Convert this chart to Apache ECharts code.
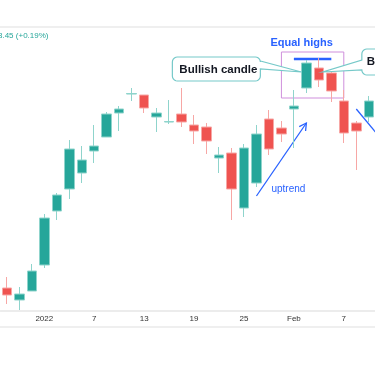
<!DOCTYPE html>
<html><head><meta charset="utf-8">
<script src="https://cdn.jsdelivr.net/npm/echarts@6/dist/echarts.min.js"></script>
<style>html,body{margin:0;padding:0;background:#fff;overflow:hidden}#c{width:375px;height:366px}</style>
</head><body><div id="c"></div>
<script>
// ---- data ----
const categories = ['2021-12-29','2021-12-30','2021-12-31','2022-01-03','2022-01-04','2022-01-05','2022-01-06','2022-01-07','2022-01-10','2022-01-11','2022-01-12','2022-01-13','2022-01-14','2022-01-17','2022-01-18','2022-01-19','2022-01-20','2022-01-21','2022-01-24','2022-01-25','2022-01-26','2022-01-27','2022-01-28','2022-01-31','2022-02-01','2022-02-02','2022-02-03','2022-02-04','2022-02-07','2022-02-08'];
const tickLabels = ['','','','2022','','','','7','','','','13','','','','19','','','','25','','','','Feb','','','','7','',''];
const opens  = [1712,1700,1709,1735,1789,1811,1827,1849,1863,1887,1906,1905,1883,1878,1886,1875,1873,1842,1847,1792,1817,1881,1872,1891,1912,1932,1927,1899,1877,1883];
const closes = [1705,1706,1729,1782,1805,1851,1840,1854,1886,1891,1906.4,1892,1887,1878.4,1878,1869,1859,1845,1811,1852,1866,1851,1866,1894,1937,1920,1909,1867,1869,1899];
const lows   = [1696,1690,1709,1732,1780,1801,1817,1837,1863,1869,1899,1887,1868,1876,1873,1856,1846,1827,1780,1783,1813,1845,1858,1852,1907,1913,1898,1857,1830,1878];
const highs  = [1723,1713,1736,1786,1807,1860,1854,1875,1888,1894,1912,1905,1892,1900,1912,1885,1877,1853,1852,1856,1875,1890,1879,1910,1940,1942,1930,1910,1879,1904];
const headerText = '3.45 (+0.19%)';
const equalHighsLabel = 'Equal highs';
const bullishLabel = 'Bullish candle';
const bearishLabel = 'Bearish candle';
const uptrendLabel = 'uptrend';

const chart = echarts.init(document.getElementById('c'), null, {renderer:'canvas'});
const candleData = opens.map((o,i)=>[o, closes[i], lows[i], highs[i]]);
chart.setOption({
  animation:false,
  grid:{left:0.64, right:-7.1, top:27, bottom:55},
  xAxis:{type:'category', data:categories, boundaryGap:true,
    axisLine:{show:true, lineStyle:{color:'#ececec', width:2}},
    axisTick:{show:false}, splitLine:{show:false},
    axisLabel:{interval:0, margin:4, fontSize:8, color:'#333333', fontFamily:'Liberation Sans',
      formatter:(v,i)=>tickLabels[i]}},
  yAxis:{type:'value', min:1689, max:1973, show:false},
  series:[{type:'candlestick', data:candleData, barWidth:10,
    itemStyle:{color:'#26a69a', color0:'#ef5350', borderColor:'#8fd4cc', borderColor0:'#f7a7a5', borderWidth:1}}]
});

const P = (i,v)=>chart.convertToPixel({gridIndex:0},[i,v]);
function arc(cx,cy,r,a0,a1){const pts=[];for(let k=0;k<=5;k++){const a=(a0+(a1-a0)*k/5)*Math.PI/180;pts.push([cx+r*Math.cos(a),cy+r*Math.sin(a)]);}return pts;}
function callout(l,t,w,h,r,side,ty1,ty2,tip){
  const R=l+w,B=t+h;let p=[];
  p=p.concat(arc(l+r,t+r,r,180,270));
  p=p.concat(arc(R-r,t+r,r,270,360));
  if(side==='right'){p.push([R,ty1],tip,[R,ty2]);}
  p=p.concat(arc(R-r,B-r,r,0,90));
  p=p.concat(arc(l+r,B-r,r,90,180));
  if(side==='left'){p.push([l,ty2],tip,[l,ty1]);}
  return p;
}
function arrowHead(a,b,len,ang){
  const dx=b[0]-a[0],dy=b[1]-a[1],L=Math.hypot(dx,dy),ux=-dx/L,uy=-dy/L;
  const rot=(x,y,t)=>[x*Math.cos(t)-y*Math.sin(t),x*Math.sin(t)+y*Math.cos(t)];
  const w1=rot(ux,uy,ang),w2=rot(ux,uy,-ang);
  return [[b[0]+w1[0]*len,b[1]+w1[1]*len],b,[b[0]+w2[0]*len,b[1]+w2[1]*len]];
}

const boxA=P(22,1948), boxB=P(27,1902);
const eqA=P(23,1941), eqB=P(26,1941);
const upA=P(20,1804), upB=P(24,1877);
const dnA=P(28,1891), dnB=P(30,1861);
const tipL=P(24,1928); tipL[0]-=5;
const tipR=P(25,1928); tipR[0]+=4;
const blue='#2962ff', teal='#76c9c9';

const lt=tipL[1]-15, ll=tipL[0]-129;
const rt=tipR[1]-23, rl=tipR[0]+39;

chart.setOption({graphic:[
  {type:'line', shape:{x1:0,y1:27,x2:375,y2:27}, style:{stroke:'#efefef', lineWidth:2}, z:1},
  {type:'line', shape:{x1:0,y1:327,x2:375,y2:327}, style:{stroke:'#efefef', lineWidth:2}, z:1},
  {type:'text', x:-2, y:36, style:{text:headerText, fill:'#26a69a', font:'8px "Liberation Sans"', textVerticalAlign:'middle'}, z:5},
  {type:'rect', shape:{x:boxA[0], y:boxA[1], width:boxB[0]-boxA[0], height:boxB[1]-boxA[1]}, style:{fill:'none', stroke:'#cf8fdc', lineWidth:1}, z:1},
  {type:'line', shape:{x1:eqA[0],y1:eqA[1],x2:eqB[0],y2:eqB[1]}, style:{stroke:blue, lineWidth:2.5}, z:1},
  {type:'text', x:boxA[0]-11, y:boxA[1]-9, style:{text:equalHighsLabel, fill:blue, font:'bold 11px "Liberation Sans"', textVerticalAlign:'middle'}, z:5},
  {type:'line', shape:{x1:upA[0],y1:upA[1],x2:upB[0],y2:upB[1]}, style:{stroke:blue, lineWidth:1.3}, z:1},
  {type:'polyline', shape:{points:arrowHead(upA,upB,8,0.5)}, style:{stroke:blue, lineWidth:1.3, fill:'none'}, z:1},
  {type:'text', x:upA[0]+15, y:upA[1]-7, style:{text:uptrendLabel, fill:blue, font:'10px "Liberation Sans"', textVerticalAlign:'middle'}, z:5},
  {type:'line', shape:{x1:dnA[0],y1:dnA[1],x2:dnB[0],y2:dnB[1]}, style:{stroke:blue, lineWidth:1.3}, z:1},
  {type:'polygon', shape:{points:callout(ll,lt,88,24,5,'right',lt+4,lt+12,tipL)}, style:{fill:'#fff', stroke:teal, lineWidth:1.2}, z:10},
  {type:'text', x:ll+7, y:lt+12.5, style:{text:bullishLabel, fill:'#131722', font:'bold 11.5px "Liberation Sans"', textVerticalAlign:'middle'}, z:11},
  {type:'polygon', shape:{points:callout(rl,rt,100,26,5,'left',rt+11,rt+21,tipR)}, style:{fill:'#fff', stroke:teal, lineWidth:1.2}, z:10},
  {type:'text', x:rl+5, y:rt+12.5, style:{text:bearishLabel, fill:'#131722', font:'bold 11.5px "Liberation Sans"', textVerticalAlign:'middle'}, z:11}
]});
</script>
</body></html>
